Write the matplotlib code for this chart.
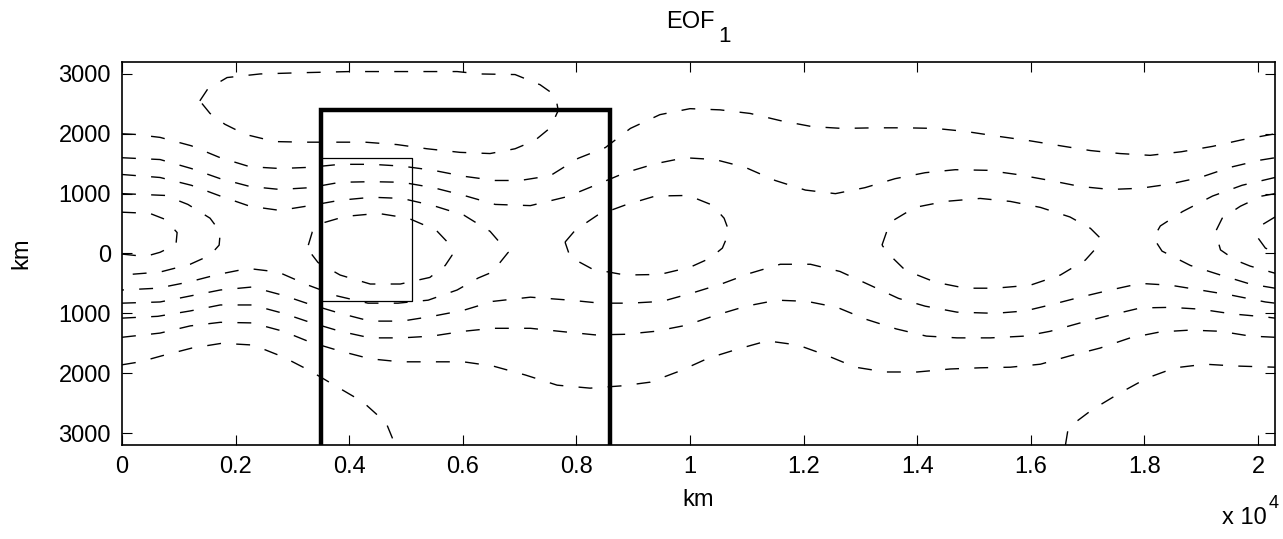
import matplotlib
matplotlib.use("Agg")
import matplotlib.pyplot as plt

plt.rcParams['font.family'] = ['Liberation Sans', 'DejaVu Sans']

# contour lines, km
top_x = [1370, 1510, 1850, 2430, 3130, 4010, 4900, 5900, 6300, 6920, 7360, 7630, 7680, 7540,
         7270, 6920, 6480, 5950, 5370, 4840, 4280, 3750, 3220, 2690, 2170, 1810, 1550, 1370]
top_y = [2550, 2750, 2940, 3000, 3020, 3040, 3040, 3040, 3000, 2990, 2820, 2640, 2390, 2100,
         1890, 1750, 1670, 1690, 1750, 1820, 1860, 1860, 1860, 1870, 1990, 2160, 2340, 2550]

b_x = [0, 230, 670, 1220, 1730, 2250, 2780, 3310, 3840, 4400, 4930, 5480, 6020, 6570, 7010,
       7540, 8030, 8510, 8950, 9470, 10000, 10530, 11060, 11590, 12150, 12680, 13260, 13790,
       14320, 14850, 15410, 15940, 16520, 17050, 17570, 18100, 18650, 19200, 19720, 20300]
b_y = [2000, 1990, 1940, 1800, 1600, 1450, 1420, 1440, 1490, 1490, 1460, 1390, 1290, 1220, 1220,
       1300, 1590, 1770, 2090, 2320, 2420, 2400, 2340, 2220, 2120, 2090, 2100, 2100,
       2090, 2040, 1960, 1890, 1800, 1720, 1670, 1640, 1700, 1790, 1900, 2000]

c_x = [0, 670, 1220, 1730, 2250, 2780, 3310, 3840, 4400, 4930, 5480, 6020, 6570, 7190, 7840,
       8330, 8860, 9390, 9910, 10440, 10970, 11500, 12030, 12560, 13080, 13610, 14140, 14670,
       15230, 15760, 16340, 16870, 17400, 17930, 18450, 18980, 19510, 20040, 20300]
c_y = [1600, 1570, 1420, 1250, 1120, 1070, 1100, 1190, 1200, 1190, 1100, 970, 820, 800, 950,
       1140, 1350, 1500, 1600, 1570, 1440, 1220, 1060, 1000, 1100, 1250, 1350, 1400,
       1390, 1320, 1220, 1120, 1070, 1090, 1160, 1270, 1440, 1560, 1600]

r_x = [0, 670, 1220, 1730, 2250, 2780, 3310, 3840, 4400, 4930, 5480, 6020, 6480, 6800,
       6520, 6270, 5900, 5390, 4860, 4330, 3790, 3280, 2750, 2220, 1690, 1160, 630, 0]
r_y = [1320, 1270, 1140, 960, 790, 720, 800, 890, 940, 920, 800, 640, 370, 20,
       -310, -410, -610, -780, -830, -830, -710, -530, -310, -250, -350, -480, -580, -610]

q_x = [0, 760, 1160, 1550, 1730, 1710, 1550, 1200, 670, 0]
q_y = [1000, 970, 820, 590, 360, 140, -30, -180, -310, -360]

p_x = [0, 490, 760, 970, 950, 670, 410, 0]
p_y = [690, 670, 570, 350, 150, 20, -50, -10]

e_x = [3280, 3350, 3570, 3930, 4510, 5040, 5530, 5780, 5810, 5690, 5420, 4900, 4370, 3840,
       3450, 3280, 3280]
e_y = [140, 360, 520, 620, 670, 590, 390, 140, -30, -200, -400, -510, -510, -360,
       -150, 60, 140]

m_x = [7800, 7980, 8370, 8860, 9390, 9970, 10390, 10600, 10690, 10570, 10350, 10000, 9470,
       8860, 8280, 7890, 7800]
m_y = [190, 390, 640, 810, 960, 970, 810, 590, 360, 90, -80, -230, -350,
       -360, -260, -60, 190]

n_x = [13380, 13520, 13960, 14490, 15110, 15640, 16170, 16690, 17050, 17220, 17150, 16960,
       16520, 15990, 15370, 14850, 14320, 13790, 13520, 13380]
n_y = [140, 520, 770, 870, 920, 870, 770, 610, 420, 260, 90, -110,
       -360, -530, -580, -580, -480, -280, -30, 140]

s1_x = [20300, 19720, 19200, 18670, 18280, 18160, 18310, 18810, 19340, 19860, 20300]
s1_y = [1270, 1140, 960, 700, 460, 260, 40, -200, -360, -510, -580]

s2_x = [20300, 20070, 19690, 19370, 19250, 19340, 19600, 19860, 20300]
s2_y = [1000, 960, 790, 590, 360, 60, -110, -210, -330]

s3_x = [20300, 20090, 20000, 20130, 20300]
s3_y = [610, 490, 260, 90, 20]

l1_x = [0, 670, 1200, 1730, 2290, 2840, 3310, 3840, 4370, 4930, 5460, 6010, 6530, 7190, 7890,
        8420, 8950, 9510, 10040, 10550, 11060, 11590, 12120, 12640, 13170, 13670, 14140,
        14700, 15370, 15900, 16340, 16870, 17400, 17930, 18460, 18980, 19550, 20130, 20300]
l1_y = [-830, -810, -710, -610, -560, -700, -850, -1000, -1130, -1130, -1050, -950, -800, -730,
        -780, -830, -830, -800, -660, -510, -330, -180, -180, -300, -530, -750, -880,
        -980, -1000, -960, -860, -730, -610, -500, -530, -610, -700, -810, -830]

l2_x = [0, 630, 1200, 1730, 2290, 2840, 3310, 3840, 4370, 4930, 5460, 6010, 6530, 7190, 7800,
        8330, 8860, 9390, 9930, 10460, 10990, 11530, 12060, 12590, 13100, 13630, 14160,
        14700, 15290, 15900, 16340, 16870, 17400, 17930, 18460, 18980, 19550, 20130, 20300]
l2_y = [-1080, -1050, -960, -860, -860, -1000, -1150, -1300, -1410, -1410, -1380, -1300, -1250,
        -1250, -1310, -1360, -1350, -1300, -1200, -1030, -880, -780, -800, -900, -1100, -1260,
        -1380, -1410, -1410, -1380, -1300, -1160, -1030, -910, -900, -930, -1010, -1060, -1080]

l3_x = [0, 670, 1200, 1730, 2290, 2840, 3310, 3840, 4370, 4900, 5460, 6010, 6530, 7100, 7660,
        8240, 8820, 9300, 9830, 10320, 10830, 11360, 11900, 12400, 12910, 13440, 14000,
        14580, 15110, 15640, 16170, 16690, 17220, 17750, 18280, 18810, 19340, 19860, 20300]
l3_y = [-1400, -1330, -1210, -1150, -1160, -1300, -1480, -1630, -1760, -1810, -1810, -1810,
        -1880, -2030, -2200, -2250, -2210, -2150, -1960, -1750, -1600, -1460, -1530, -1700,
        -1900, -1980, -1980, -1930, -1910, -1900, -1850, -1710, -1580, -1410, -1310, -1280,
        -1300, -1380, -1400]

l4_x = [0, 320, 700, 1230, 1760, 2310, 2840, 3310, 3790, 4240, 4650, 4810]
l4_y = [-1860, -1810, -1710, -1580, -1500, -1530, -1730, -1960, -2230, -2480, -2830, -3200]

l5_x = [16610, 16660, 17080, 17570, 18050, 18540, 19070, 19600, 20300]
l5_y = [-3200, -2910, -2610, -2330, -2080, -1910, -1850, -1880, -1900]

contours = [(top_x, top_y), (b_x, b_y), (c_x, c_y), (r_x, r_y), (q_x, q_y), (p_x, p_y),
            (e_x, e_y), (m_x, m_y), (n_x, n_y), (s1_x, s1_y), (s2_x, s2_y), (s3_x, s3_y),
            (l1_x, l1_y), (l2_x, l2_y), (l3_x, l3_y), (l4_x, l4_y), (l5_x, l5_y)]

# boxes
big_box_x = [3500, 3500, 8600, 8600]
big_box_y = [-3200, 2400, 2400, -3200]
small_box_x = [3500, 5100, 5100, 3500, 3500]
small_box_y = [1600, 1600, -800, -800, 1600]

xticks = [0, 2000, 4000, 6000, 8000, 10000, 12000, 14000, 16000, 18000, 20000]
xticklabels = ['0', '0.2', '0.4', '0.6', '0.8', '1', '1.2', '1.4', '1.6', '1.8', '2']
yticks = [-3000, -2000, -1000, 0, 1000, 2000, 3000]
yticklabels = ['3000', '2000', '1000', '0', '1000', '2000', '3000']

fig = plt.figure(figsize=(12.83, 5.39), dpi=100)
ax = fig.add_axes([0.0951, 0.1744, 0.8987, 0.7106])

for cx, cy in contours:
    ax.plot(cx, cy, color='black', lw=1.0, linestyle=(0, (10, 11)))

ax.plot(big_box_x, big_box_y, color='black', lw=3.2, solid_joinstyle='miter')
ax.plot(small_box_x, small_box_y, color='black', lw=0.9)

ax.set_xlim(0, 20300)
ax.set_ylim(-3200, 3200)
ax.set_xticks(xticks)
ax.set_xticklabels(xticklabels)
ax.set_yticks(yticks)
ax.set_yticklabels(yticklabels)
ax.tick_params(direction='in', length=7, width=0.8, top=True, right=True,
               labelsize=17, pad=8)
for s in ax.spines.values():
    s.set_linewidth(1.2)

ax.set_xlabel('km', fontsize=17, labelpad=8)
ax.set_ylabel('km', fontsize=17, labelpad=19)

# title: MATLAB-style subscript, nearly full size and dropped low
fig.text(690 / 1283, 1 - 22 / 539, 'EOF', fontsize=17, ha='center', va='center')
fig.text(718 / 1283, 1 - 36 / 539, '1', fontsize=16, ha='left', va='center')

# axis multiplier
fig.text(1267 / 1283, 1 - 518 / 539, 'x 10', fontsize=17, ha='right', va='center')
fig.text(1269 / 1283, 1 - 504 / 539, '4', fontsize=13, ha='left', va='center')

fig.savefig('out.png', dpi=100)
